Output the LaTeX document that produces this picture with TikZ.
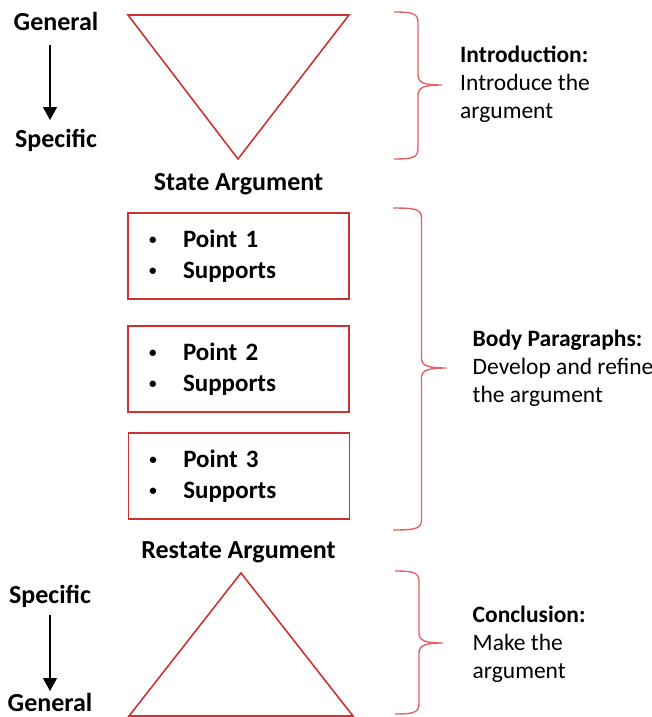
\documentclass[tikz,border=0pt]{standalone}
\usepackage{fontspec}
\setmainfont{Carlito}
\usetikzlibrary{arrows.meta}
\definecolor{boxred}{RGB}{204,50,52}
\definecolor{bracered}{RGB}{226,98,104}
\newcommand\mybrace[6]{% #1 x0, #2 spine x, #3 tip x, #4 ytop, #5 ymid, #6 ybot
  \draw[brace] (#1,#4) .. controls (#2-7,#4) and (#2,#4+1) .. (#2,#4+10)
    -- (#2,#5-10) .. controls (#2,#5-2) and (#2+7,#5) .. (#3,#5)
    .. controls (#2+7,#5) and (#2,#5+2) .. (#2,#5+10)
    -- (#2,#6-10) .. controls (#2,#6-1) and (#2-7,#6) .. (#1,#6);}
\begin{document}
\begin{tikzpicture}[x=1pt,y=-1pt,
  shape line/.style={draw=boxred,line width=1.6pt,line join=miter},
  brace/.style={draw=bracered,line width=1.4pt},
  lab/.style={font=\fontsize{26}{30}\selectfont\bfseries,inner sep=0pt},
  side/.style={font=\fontsize{23.5}{28}\selectfont,align=left,anchor=west,inner sep=0pt},
  pbox/.style={shape line,rectangle,minimum width=221pt,minimum height=86pt,
    text width=181pt,inner xsep=20pt,inner ysep=0pt,align=left,
    font=\fontsize{25}{31}\selectfont\bfseries},
  arr/.style={line width=1.2pt,-{Triangle[width=14pt,length=13pt]}}]
\useasboundingbox (0,0) rectangle (652,717);
% left labels and arrows
\node[lab] (gen1) at (56,21) {General};
\node[lab] (spec1) at (56,140.5) {Specific};
\coordinate (a1s) at (50,45);
\coordinate (a1e) at (50,120);
\draw[arr] (a1s) -- (a1e);
\node[lab] (spec2) at (50,596.5) {Specific};
\node[lab] (gen2) at (50,702.5) {General};
\coordinate (a2s) at (50,615);
\coordinate (a2e) at (50,691);
\draw[arr] (a2s) -- (a2e);
% triangles
\draw[shape line] (128,15) -- (349,15) -- (238,159) -- cycle;
\draw[shape line] (241,573) -- (353,716) -- (129,716) -- cycle;
\node[lab] (state) at (238.5,184.5) {State Argument};
\node[lab] (restate) at (238.5,552) {Restate Argument};
% boxes
\newcommand\bul{\makebox[35pt][l]{\hspace{1pt}\raisebox{2.6pt}{\fontsize{15}{15}\selectfont•}}}
\node[pbox] (b1) at (238.5,256) {\bul Point 1\\\bul Supports};
\node[pbox] (b2) at (238.5,369) {\bul Point 2\\\bul Supports};
\node[pbox] (b3) at (238.8,476) {\bul Point 3\\\bul Supports};
% braces
\mybrace{394}{418}{442}{12}{85}{159}
\mybrace{393}{421.5}{446.5}{208}{368}{530}
\mybrace{395}{419}{443}{571}{643}{714}
% side texts
\node[side] (intro) at (460,84) {\textbf{Introduction:}\\Introduce the\\argument};
\node[side] (body) at (472.5,368) {\textbf{Body Paragraphs:}\\Develop and refine\\the argument};
\node[side] (concl) at (472.5,644.5) {\textbf{Conclusion:}\\Make the\\argument};
\end{tikzpicture}
\end{document}
